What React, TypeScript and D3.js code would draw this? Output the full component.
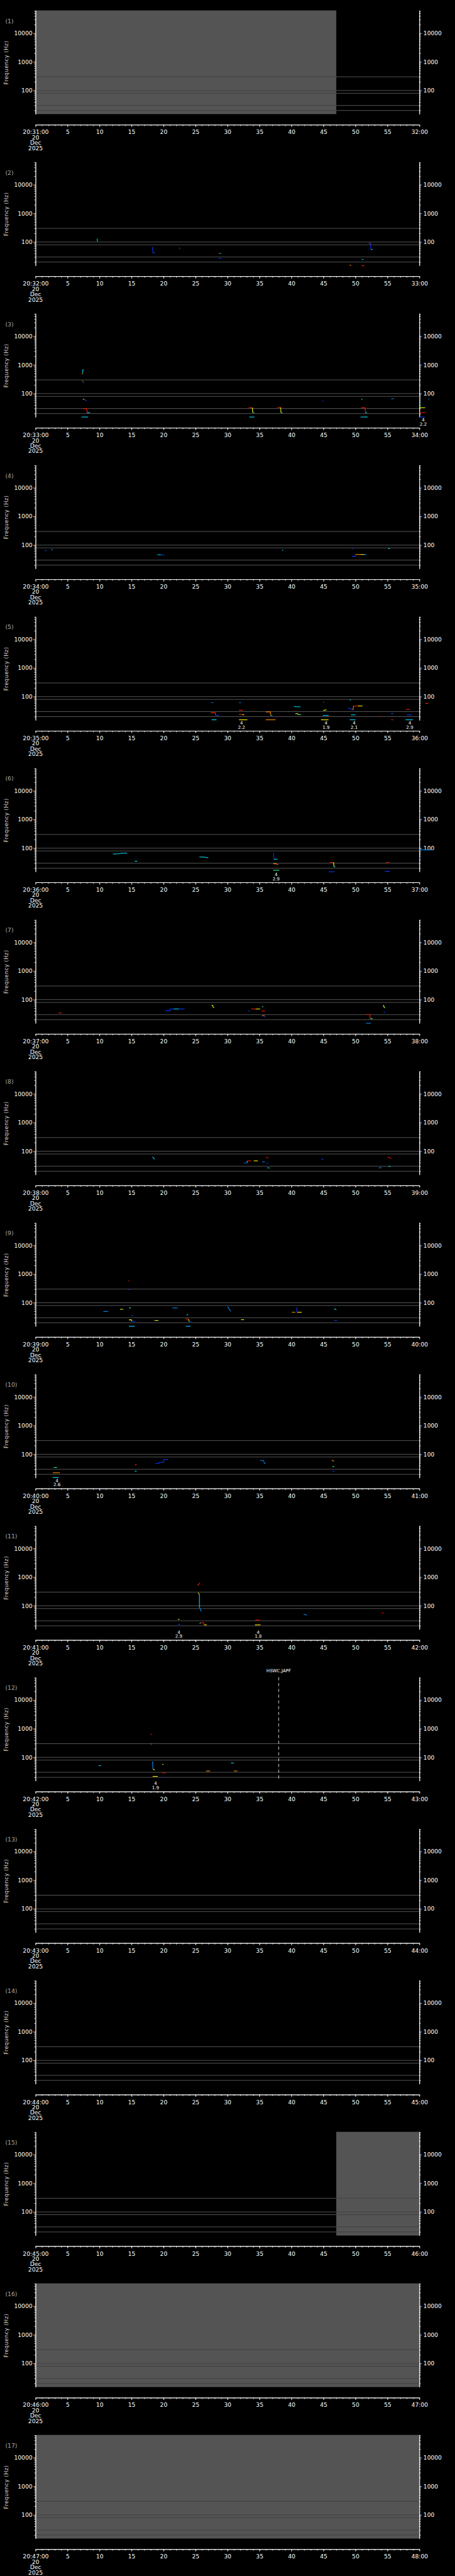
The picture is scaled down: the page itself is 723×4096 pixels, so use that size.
import React, { useEffect, useRef } from "react";
import * as d3 from "d3";

// colours of the spectrogram traces (jet-like)
const R = "#ff1a00";
const O = "#ff9000";
const Y = "#ffff00";
const G = "#30ff90";
const C = "#00e0ff";
const LB = "#0090ff";
const B = "#0a3cff";

const panelMinutes = [31, 32, 33, 34, 35, 36, 37, 38, 39, 40, 41, 42, 43, 44, 45, 46, 47];
const refLines = [300, 100, 80, 30, 20];
const majorFreqTicks = [100, 1000, 10000];
const timeMajorTicks = [0, 5, 10, 15, 20, 25, 30, 35, 40, 45, 50, 55, 60];

// grey "no data" blocks: panel, start s, end s
const greyBlocks = [
  { p: 1, t0: 0, t1: 47 },
  { p: 15, t0: 47, t1: 60 },
  { p: 16, t0: 0, t1: 60 },
  { p: 17, t0: 0, t1: 60 },
];

// detections: panel, colour, [seconds, Hz] points
const traces = [
  { p: 2, c: C, pts: [[9.6, 130], [9.7, 105]] },
  { p: 2, c: B, pts: [[18.3, 67], [18.35, 42], [18.7, 42]] },
  { p: 2, c: R, pts: [[22.4, 62], [22.55, 62]] },
  { p: 2, c: B, pts: [[22.5, 60], [22.6, 58]] },
  { p: 2, c: R, pts: [[28.6, 41], [28.8, 41]] },
  { p: 2, c: C, pts: [[28.8, 40], [29.0, 39]] },
  { p: 2, c: B, pts: [[28.6, 26.7], [29.0, 26.7]] },
  { p: 2, c: O, pts: [[49.1, 15.4], [49.35, 15.4]] },
  { p: 2, c: C, pts: [[51.0, 25], [51.25, 24]] },
  { p: 2, c: R, pts: [[51.0, 15], [51.4, 15]] },
  { p: 2, c: R, pts: [[52.1, 91], [52.35, 91]] },
  { p: 2, c: B, pts: [[52.35, 91], [52.4, 55]] },
  { p: 2, c: C, pts: [[52.4, 55], [52.7, 55]] },

  { p: 3, c: O, pts: [[7.3, 470], [7.35, 520]] },
  { p: 3, c: C, pts: [[7.35, 520], [7.4, 680], [7.5, 680]] },
  { p: 3, c: Y, pts: [[7.3, 274], [7.4, 270]] },
  { p: 3, c: B, pts: [[7.4, 265], [7.6, 232]] },
  { p: 3, c: Y, pts: [[7.4, 63], [7.6, 63]] },
  { p: 3, c: B, pts: [[7.6, 62], [8.0, 56]] },
  { p: 3, c: R, pts: [[7.4, 30], [8.0, 30], [8.05, 21.6]] },
  { p: 3, c: C, pts: [[8.05, 21.6], [8.5, 21.6]] },
  { p: 3, c: C, pts: [[7.2, 15.2], [8.2, 15.2]] },
  { p: 3, c: R, pts: [[33.3, 32], [33.9, 32]] },
  { p: 3, c: Y, pts: [[33.9, 32], [33.95, 21.6]] },
  { p: 3, c: C, pts: [[33.95, 21.6], [34.2, 21.6]] },
  { p: 3, c: C, pts: [[33.4, 15.2], [34.2, 15.2]] },
  { p: 3, c: R, pts: [[37.8, 33], [38.3, 33]] },
  { p: 3, c: Y, pts: [[38.3, 33], [38.35, 21.6]] },
  { p: 3, c: G, pts: [[38.35, 21.6], [38.6, 21.6]] },
  { p: 3, c: B, pts: [[44.8, 54.6], [45.0, 54]] },
  { p: 3, c: C, pts: [[50.9, 63], [51.1, 63]] },
  { p: 3, c: R, pts: [[50.9, 32], [51.5, 32], [51.55, 21.6]] },
  { p: 3, c: C, pts: [[51.55, 21.6], [51.8, 21.6]] },
  { p: 3, c: C, pts: [[50.8, 15.2], [51.9, 15.2]] },
  { p: 3, c: LB, pts: [[55.6, 65], [56.0, 67]] },
  { p: 3, c: G, pts: [[60.0, 85], [60.05, 32]] },
  { p: 3, c: Y, pts: [[60.05, 32], [60.9, 32]] },
  { p: 3, c: R, pts: [[60.0, 21.6], [60.9, 21.6]] },
  { p: 3, c: B, pts: [[60.0, 15.2], [60.8, 15.2]] },
  { p: 3, c: C, pts: [[61.4, 63], [61.5, 63]] },

  { p: 4, c: B, pts: [[1.4, 64.6], [1.7, 64.6]] },
  { p: 4, c: LB, pts: [[2.4, 68.5], [2.7, 68.5]] },
  { p: 4, c: C, pts: [[19.05, 46], [19.6, 46]] },
  { p: 4, c: B, pts: [[19.6, 45], [20.1, 45]] },
  { p: 4, c: C, pts: [[38.5, 66.5], [38.7, 66.5]] },
  { p: 4, c: B, pts: [[49.45, 73.7], [49.6, 73.7]] },
  { p: 4, c: B, pts: [[49.45, 40.5], [50.0, 40.5], [50.05, 47]] },
  { p: 4, c: O, pts: [[50.05, 47], [50.8, 47]] },
  { p: 4, c: Y, pts: [[50.8, 47], [51.3, 47]] },
  { p: 4, c: C, pts: [[51.3, 46.5], [51.65, 46.5]] },
  { p: 4, c: C, pts: [[55.1, 75.8], [55.4, 75.8]] },

  { p: 5, c: LB, pts: [[27.5, 61.8], [27.8, 61.8]] },
  { p: 5, c: R, pts: [[27.4, 27.3], [28.1, 27.3], [28.15, 22]] },
  { p: 5, c: B, pts: [[28.15, 22], [28.7, 22]] },
  { p: 5, c: C, pts: [[27.5, 15.5], [28.3, 15.5]] },
  { p: 5, c: LB, pts: [[31.8, 61.8], [32.1, 61.8]] },
  { p: 5, c: R, pts: [[31.8, 33.5], [32.4, 33.5]] },
  { p: 5, c: R, pts: [[31.75, 24], [32.3, 24]] },
  { p: 5, c: Y, pts: [[32.3, 23.5], [32.6, 23]] },
  { p: 5, c: Y, pts: [[31.8, 15.5], [33.1, 15.5]] },
  { p: 5, c: O, pts: [[36.0, 29.4], [36.7, 29.4], [36.75, 22]] },
  { p: 5, c: C, pts: [[36.75, 22], [37.0, 22]] },
  { p: 5, c: O, pts: [[36.0, 15.5], [37.5, 15.5]] },
  { p: 5, c: C, pts: [[40.4, 45], [41.4, 44]] },
  { p: 5, c: Y, pts: [[40.6, 25.5], [41.0, 25.5], [41.05, 23.5]] },
  { p: 5, c: G, pts: [[41.05, 23.5], [41.5, 23.5]] },
  { p: 5, c: B, pts: [[44.9, 64], [45.1, 64]] },
  { p: 5, c: Y, pts: [[44.95, 33], [45.5, 34.5]] },
  { p: 5, c: C, pts: [[44.9, 22], [45.8, 22]] },
  { p: 5, c: Y, pts: [[44.6, 15.5], [45.8, 15.5]] },
  { p: 5, c: C, pts: [[49.1, 77], [49.3, 77]] },
  { p: 5, c: B, pts: [[48.85, 40.5], [49.6, 34]] },
  { p: 5, c: O, pts: [[49.6, 34], [49.7, 47]] },
  { p: 5, c: R, pts: [[49.7, 47], [50.4, 47]] },
  { p: 5, c: Y, pts: [[50.4, 47], [51.1, 47]] },
  { p: 5, c: C, pts: [[49.3, 23], [50.0, 23]] },
  { p: 5, c: C, pts: [[49.1, 15.5], [50.0, 15.5]] },
  { p: 5, c: R, pts: [[53.8, 19.8], [54.0, 19.8]] },
  { p: 5, c: B, pts: [[55.5, 25.5], [56.0, 25.8]] },
  { p: 5, c: R, pts: [[55.6, 15.5], [55.9, 15.5]] },
  { p: 5, c: R, pts: [[57.9, 36], [58.5, 36]] },
  { p: 5, c: B, pts: [[58.0, 23], [58.8, 23]] },
  { p: 5, c: C, pts: [[57.8, 15.5], [59.0, 15.5]] },
  { p: 5, c: R, pts: [[60.9, 57.5], [61.4, 57.5]] },

  { p: 6, c: C, pts: [[12.1, 63], [12.5, 62], [13.0, 64], [13.5, 67], [14.3, 67]] },
  { p: 6, c: C, pts: [[15.5, 35], [15.9, 35]] },
  { p: 6, c: C, pts: [[25.6, 49], [26.3, 49], [27.0, 46]] },
  { p: 6, c: C, pts: [[37.15, 65.5], [37.2, 65.5]] },
  { p: 6, c: B, pts: [[37.2, 65.5], [37.25, 41]] },
  { p: 6, c: C, pts: [[37.25, 41], [37.8, 41]] },
  { p: 6, c: O, pts: [[37.15, 28.5], [37.6, 28.5], [37.9, 26.5]] },
  { p: 6, c: G, pts: [[37.15, 16.9], [38.1, 16.9]] },
  { p: 6, c: R, pts: [[46.0, 31.6], [46.6, 31.6]] },
  { p: 6, c: Y, pts: [[46.6, 31.6], [46.65, 22.4]] },
  { p: 6, c: C, pts: [[46.65, 22.4], [46.85, 22.4]] },
  { p: 6, c: B, pts: [[45.8, 15], [46.7, 15]] },
  { p: 6, c: R, pts: [[54.7, 31], [55.3, 31]] },
  { p: 6, c: B, pts: [[54.6, 15.5], [55.35, 15.5]] },
  { p: 6, c: LB, pts: [[59.9, 86.5], [62.2, 86.5]] },
  { p: 6, c: B, pts: [[59.9, 45.6], [60.1, 45.6]] },

  { p: 7, c: R, pts: [[3.6, 34.5], [4.1, 34.5]] },
  { p: 7, c: B, pts: [[20.3, 41.7], [21.0, 41.7], [21.1, 47.5], [21.6, 47.5]] },
  { p: 7, c: C, pts: [[21.6, 47.5], [22.4, 47.5]] },
  { p: 7, c: B, pts: [[22.4, 47.5], [23.3, 47.5]] },
  { p: 7, c: Y, pts: [[27.5, 62.7], [27.7, 62.7], [27.75, 53.4]] },
  { p: 7, c: G, pts: [[27.75, 53.4], [27.95, 53.4]] },
  { p: 7, c: B, pts: [[33.25, 40], [33.5, 40]] },
  { p: 7, c: R, pts: [[33.7, 47.5], [34.4, 47.5]] },
  { p: 7, c: Y, pts: [[34.4, 47.5], [35.1, 47.5]] },
  { p: 7, c: G, pts: [[35.4, 56.6], [35.6, 56.6]] },
  { p: 7, c: R, pts: [[35.3, 40], [35.9, 40]] },
  { p: 7, c: O, pts: [[35.4, 27.7], [35.8, 27.7]] },
  { p: 7, c: B, pts: [[35.8, 27.7], [35.85, 24.7], [35.9, 24.7]] },
  { p: 7, c: R, pts: [[51.65, 30.3], [52.25, 30.3], [52.3, 21.7]] },
  { p: 7, c: G, pts: [[52.3, 21.7], [52.7, 21.7]] },
  { p: 7, c: LB, pts: [[51.65, 15], [52.4, 15]] },
  { p: 7, c: Y, pts: [[54.3, 62.7], [54.4, 62.7], [54.5, 52.6]] },
  { p: 7, c: G, pts: [[54.5, 52.6], [54.65, 52.6]] },
  { p: 7, c: B, pts: [[54.4, 36.6], [54.65, 36.6]] },

  { p: 8, c: C, pts: [[18.25, 62.5], [18.4, 60], [18.6, 51.7]] },
  { p: 8, c: B, pts: [[32.5, 39.1], [33.05, 39.1]] },
  { p: 8, c: G, pts: [[33.05, 39.1], [33.1, 46]] },
  { p: 8, c: R, pts: [[33.1, 46], [33.7, 46]] },
  { p: 8, c: Y, pts: [[34.1, 46], [34.75, 46]] },
  { p: 8, c: LB, pts: [[35.45, 42], [35.85, 43.5]] },
  { p: 8, c: R, pts: [[36.0, 62.5], [36.4, 57]] },
  { p: 8, c: B, pts: [[36.1, 37.5], [36.4, 37.5]] },
  { p: 8, c: C, pts: [[36.2, 26.5], [36.6, 25.8]] },
  { p: 8, c: B, pts: [[44.7, 52.5], [45.0, 52.5]] },
  { p: 8, c: LB, pts: [[53.65, 26.4], [54.1, 26.4]] },
  { p: 8, c: R, pts: [[55.05, 62.5], [55.6, 56]] },
  { p: 8, c: C, pts: [[55.15, 29.5], [55.5, 29.5]] },

  { p: 9, c: LB, pts: [[10.6, 49.5], [11.35, 49.5]] },
  { p: 9, c: Y, pts: [[13.2, 59.5], [13.7, 58.5]] },
  { p: 9, c: R, pts: [[14.55, 560], [14.6, 600]] },
  { p: 9, c: B, pts: [[14.5, 287], [14.7, 287]] },
  { p: 9, c: G, pts: [[14.6, 66], [14.9, 66]] },
  { p: 9, c: B, pts: [[14.95, 35.8], [15.25, 35.8]] },
  { p: 9, c: Y, pts: [[14.6, 25.3], [15.0, 25.3], [15.05, 22.4]] },
  { p: 9, c: B, pts: [[15.05, 22.4], [15.6, 22.4]] },
  { p: 9, c: C, pts: [[14.6, 15.1], [15.5, 15.1]] },
  { p: 9, c: Y, pts: [[18.6, 24], [19.2, 24]] },
  { p: 9, c: LB, pts: [[21.4, 66], [22.2, 66]] },
  { p: 9, c: C, pts: [[23.6, 38], [23.85, 38]] },
  { p: 9, c: R, pts: [[23.4, 27.1], [23.9, 27.1]] },
  { p: 9, c: Y, pts: [[23.9, 27.1], [24.0, 21.8]] },
  { p: 9, c: B, pts: [[24.0, 21.8], [24.4, 21.8]] },
  { p: 9, c: C, pts: [[23.5, 15.1], [24.2, 15.1]] },
  { p: 9, c: LB, pts: [[30.05, 74.6], [30.1, 66], [30.3, 60], [30.5, 49.5]] },
  { p: 9, c: Y, pts: [[32.1, 25.9], [32.6, 25.4]] },
  { p: 9, c: B, pts: [[40.85, 69.3], [40.85, 46.7]] },
  { p: 9, c: O, pts: [[40.05, 46.7], [40.6, 46.7]] },
  { p: 9, c: Y, pts: [[40.9, 46.7], [41.6, 46.7]] },
  { p: 9, c: C, pts: [[46.65, 61], [46.85, 60], [47.0, 56.5]] },
  { p: 9, c: B, pts: [[46.65, 24], [47.15, 24.3]] },

  { p: 10, c: G, pts: [[2.85, 34.5], [3.35, 34.5]] },
  { p: 10, c: O, pts: [[2.7, 22.6], [3.8, 22.6]] },
  { p: 10, c: C, pts: [[2.7, 15.3], [3.6, 15.3]] },
  { p: 10, c: R, pts: [[15.5, 42], [15.8, 44.7]] },
  { p: 10, c: C, pts: [[15.5, 25.8], [15.8, 25.8]] },
  { p: 10, c: B, pts: [[18.7, 47.6], [19.3, 47.6], [19.3, 52], [20.0, 52], [20.05, 65.5], [20.7, 65.5]] },
  { p: 10, c: LB, pts: [[35.1, 61], [35.6, 61], [35.8, 47.6], [35.95, 47.6]] },
  { p: 10, c: O, pts: [[46.3, 62], [46.65, 57]] },
  { p: 10, c: G, pts: [[46.4, 37], [46.7, 37]] },
  { p: 10, c: B, pts: [[46.4, 25.8], [46.7, 25.8]] },

  { p: 11, c: Y, pts: [[22.25, 33.8], [22.5, 33.8]] },
  { p: 11, c: B, pts: [[22.25, 22.4], [22.6, 22.4]] },
  { p: 11, c: R, pts: [[25.3, 518], [25.5, 560], [25.7, 635]] },
  { p: 11, c: Y, pts: [[25.4, 287], [25.6, 255]] },
  { p: 11, c: C, pts: [[25.6, 255], [25.62, 86]] },
  { p: 11, c: LB, pts: [[25.65, 86], [25.9, 63.5]] },
  { p: 11, c: G, pts: [[25.65, 24], [25.8, 25.6]] },
  { p: 11, c: R, pts: [[25.8, 25.6], [26.3, 25.6], [26.35, 21.5]] },
  { p: 11, c: Y, pts: [[26.35, 21.5], [26.75, 21.5]] },
  { p: 11, c: R, pts: [[34.3, 31.5], [35.0, 32]] },
  { p: 11, c: Y, pts: [[34.3, 21.5], [35.15, 21.5]] },
  { p: 11, c: LB, pts: [[41.9, 51], [42.4, 47]] },
  { p: 11, c: R, pts: [[54.1, 56.4], [54.4, 56.4]] },

  { p: 12, c: C, pts: [[9.85, 51.2], [10.2, 51.2]] },
  { p: 12, c: R, pts: [[18.0, 631], [18.2, 631]] },
  { p: 12, c: LB, pts: [[17.95, 290], [18.15, 290]] },
  { p: 12, c: LB, pts: [[18.2, 69], [18.3, 69], [18.35, 38.4]] },
  { p: 12, c: Y, pts: [[18.35, 38.4], [18.65, 36.6]] },
  { p: 12, c: Y, pts: [[19.8, 57], [20.0, 57]] },
  { p: 12, c: R, pts: [[19.8, 28.8], [20.3, 28.8]] },
  { p: 12, c: Y, pts: [[18.3, 21.6], [19.1, 21.6]] },
  { p: 12, c: B, pts: [[19.8, 20], [20.0, 20]] },
  { p: 12, c: O, pts: [[26.65, 33.3], [27.3, 33.3]] },
  { p: 12, c: C, pts: [[30.55, 63.5], [31.0, 63.5]] },
  { p: 12, c: O, pts: [[31.0, 33.3], [31.55, 33.3]] },
];

// small two-line annotations under the plot
const notes = [
  { p: 3, t: 60.6, a: "4", b: "2.2" },
  { p: 5, t: 32.2, a: "4", b: "2.2" },
  { p: 5, t: 45.4, a: "4", b: "1.9" },
  { p: 5, t: 49.8, a: "4", b: "2.1" },
  { p: 5, t: 58.5, a: "4", b: "2.9" },
  { p: 6, t: 37.6, a: "4", b: "2.9" },
  { p: 10, t: 3.35, a: "4", b: "2.6" },
  { p: 11, t: 22.4, a: "4", b: "2.9" },
  { p: 11, t: 34.8, a: "4", b: "1.8" },
  { p: 12, t: 18.75, a: "4", b: "1.9" },
];

const events = [{ p: 12, t: 38, label: "HSWC,JAPF" }];

const W = 1024;
const H = 5802;
const PANEL_H = H / 17;
const FONT = "DejaVu Sans, sans-serif";

export default function App() {
  const ref = useRef<SVGSVGElement>(null);

  useEffect(() => {
    const svg = d3.select(ref.current);
    svg.selectAll("*").remove();
    svg.append("rect").attr("width", W).attr("height", H).attr("fill", "#000");

    const x = d3.scaleLinear().domain([0, 60]).range([80, 944]);
    const y = d3.scaleLog().domain([15, 62500]).range([257, 23.5]);
    const minorFreq: number[] = [];
    [10, 100, 1000, 10000].forEach((dec) => {
      for (let k = 2; k <= 9; k++) {
        const v = k * dec;
        if (v >= 15 && v <= 62500) minorFreq.push(v);
      }
    });
    const secTicks = d3.range(0, 61, 1);
    const line = d3
      .line<number[]>()
      .x((d) => x(d[0]))
      .y((d) => y(d[1]));

    panelMinutes.forEach((minute, i) => {
      const p = i + 1;
      const g = svg.append("g").attr("transform", `translate(0,${i * PANEL_H})`);

      // reference frequency lines
      refLines.forEach((f) => {
        g.append("line")
          .attr("x1", x(0)).attr("x2", x(60))
          .attr("y1", y(f)).attr("y2", y(f))
          .attr("stroke", "#5c5c5c").attr("stroke-width", 1.3);
      });

      greyBlocks.filter((b) => b.p === p).forEach((b) => {
        g.append("rect")
          .attr("x", x(b.t0)).attr("width", x(b.t1) - x(b.t0))
          .attr("y", y(62500)).attr("height", y(15) - y(62500))
          .attr("fill", "#545454");
        refLines.forEach((f) => {
          g.append("line")
            .attr("x1", x(b.t0)).attr("x2", x(b.t1))
            .attr("y1", y(f)).attr("y2", y(f))
            .attr("stroke", "#3e3e3e").attr("stroke-width", 1.3);
        });
      });

      // left / right frequency axes
      const styleAxis = (a: any) => {
        a.selectAll("path,line").attr("stroke", "#fff").attr("stroke-width", 1.2);
        a.selectAll("text").attr("fill", "#fff").attr("font-family", FONT).attr("font-size", 13);
      };
      const la = g.append("g").attr("transform", `translate(${x(0)},0)`);
      la.append("g").call(d3.axisLeft(y).tickValues(minorFreq).tickSize(3).tickSizeOuter(0).tickFormat(() => "")).call(styleAxis);
      la.append("g").call(d3.axisLeft(y).tickValues(majorFreqTicks).tickSize(5).tickSizeOuter(0).tickPadding(2).tickFormat(d3.format("d"))).call(styleAxis);
      const ra = g.append("g").attr("transform", `translate(${x(60)},0)`);
      ra.append("g").call(d3.axisRight(y).tickValues(minorFreq).tickSize(3).tickSizeOuter(0).tickFormat(() => "")).call(styleAxis);
      ra.append("g").call(d3.axisRight(y).tickValues(majorFreqTicks).tickSize(5).tickSizeOuter(0).tickPadding(4).tickFormat(d3.format("d"))).call(styleAxis);

      // time axis
      const next = minute + 1;
      const xa = g.append("g").attr("transform", "translate(0,281)");
      xa.append("g").call(d3.axisBottom(x).tickValues(secTicks).tickSize(3).tickSizeOuter(0).tickFormat(() => "")).call(styleAxis);
      xa.append("g")
        .call(
          d3.axisBottom(x).tickValues(timeMajorTicks).tickSize(5).tickSizeOuter(0).tickPadding(7)
            .tickFormat((d: any) => (d === 0 ? `20:${minute}:00` : d === 60 ? `${next}:00` : String(d)))
        )
        .call(styleAxis);
      ["20", "Dec", "2025"].forEach((s, k) => {
        g.append("text")
          .attr("x", x(0)).attr("y", 314 + k * 12)
          .attr("text-anchor", "middle").attr("fill", "#fff")
          .attr("font-family", FONT).attr("font-size", 13)
          .text(s);
      });

      // panel number and axis title
      g.append("text")
        .attr("x", 12).attr("y", 52)
        .attr("fill", "#aaa").attr("font-family", FONT).attr("font-size", 13)
        .text(`(${p})`);
      g.append("text")
        .attr("transform", "translate(19,141) rotate(-90)")
        .attr("text-anchor", "middle").attr("fill", "#d0d0d0")
        .attr("font-family", FONT).attr("font-size", 12).attr("letter-spacing", 0.6)
        .text("Frequency (Hz)");

      // event markers
      events.filter((e) => e.p === p).forEach((e) => {
        g.append("line")
          .attr("x1", x(e.t)).attr("x2", x(e.t))
          .attr("y1", y(62500)).attr("y2", y(15))
          .attr("stroke", "#fff").attr("stroke-width", 1.2)
          .attr("stroke-dasharray", "7,6");
        g.append("text")
          .attr("x", x(e.t)).attr("y", 12)
          .attr("text-anchor", "middle").attr("fill", "#fff")
          .attr("font-family", FONT).attr("font-size", 10)
          .text(e.label);
      });

      // detections
      traces.filter((d) => d.p === p).forEach((d) => {
        g.append("path")
          .attr("d", line(d.pts as number[][]))
          .attr("fill", "none")
          .attr("stroke", d.c)
          .attr("stroke-width", 1.5);
      });

      notes.filter((n) => n.p === p).forEach((n) => {
        g.append("text")
          .attr("x", x(n.t)).attr("y", 266.5)
          .attr("text-anchor", "middle").attr("fill", "#fff")
          .attr("font-family", FONT).attr("font-size", 10)
          .text(n.a);
        g.append("text")
          .attr("x", x(n.t)).attr("y", 276)
          .attr("text-anchor", "middle").attr("fill", "#fff")
          .attr("font-family", FONT).attr("font-size", 10)
          .text(n.b);
      });
    });
  }, []);

  return (
    <svg
      ref={ref}
      width={723}
      height={4096}
      viewBox={`0 0 ${W} ${H}`}
      style={{ position: "absolute", left: 0, top: 0, display: "block", background: "#000" }}
    />
  );
}
